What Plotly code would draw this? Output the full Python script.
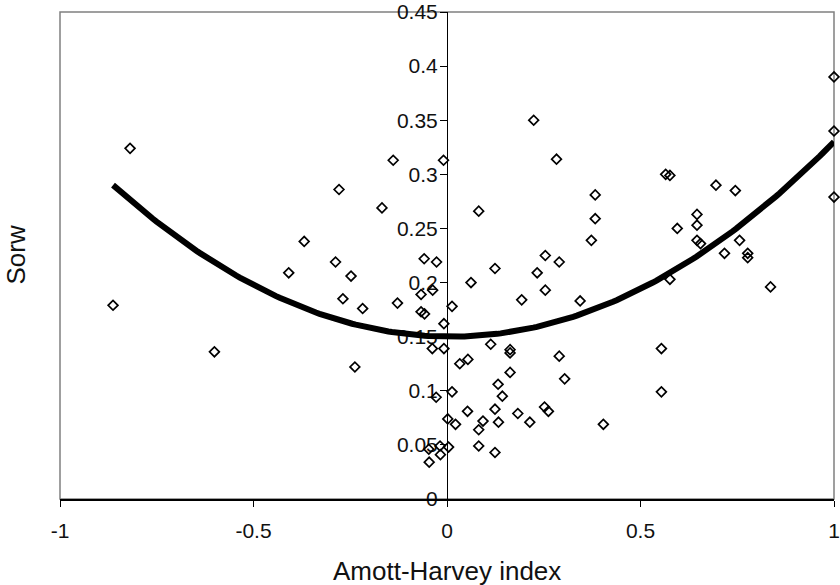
import numpy as np
import plotly.graph_objects as go

# Amott-Harvey index (x) and Sorw (y)
amott_harvey = [
    -0.863, -0.819, -0.601,
    -0.139, -0.009, -0.279, -0.168, -0.369, -0.288, -0.409, -0.248, -0.059, -0.027,
    -0.269, -0.218, -0.128, -0.067, -0.037, -0.067, -0.058, -0.008, -0.038, -0.008,
    -0.238, -0.028, -0.018, -0.017, -0.047, -0.046,
    0.082, 0.124, 0.254, 0.233, 0.290, 0.062, 0.254, 0.193, 0.013, 0.113, 0.163,
    0.163, 0.290, 0.033, 0.054, 0.163, 0.132, 0.143, 0.013, 0.053, 0.124, 0.183,
    0.252, 0.262, 0.002, 0.022, 0.093, 0.082, 0.133, 0.214, 0.082, 0.124, 0.004,
    0.304, 0.344, 0.404,
    0.224, 0.283, 0.383, 0.383, 0.373,
    0.576, 0.836, 0.717, 0.777, 0.777, 0.554, 0.554,
    0.565, 0.576, 0.695, 0.745, 0.646, 0.646, 0.595, 0.646, 0.655, 0.756,
    1.0, 1.0, 1.0,
]
sorw = [
    0.179, 0.324, 0.136,
    0.313, 0.313, 0.286, 0.269, 0.238, 0.219, 0.209, 0.206, 0.222, 0.219,
    0.185, 0.176, 0.181, 0.189, 0.193, 0.173, 0.171, 0.162, 0.139, 0.139,
    0.122, 0.094, 0.049, 0.041, 0.046, 0.034,
    0.266, 0.213, 0.225, 0.209, 0.219, 0.200, 0.193, 0.184, 0.178, 0.143, 0.138,
    0.135, 0.132, 0.125, 0.129, 0.117, 0.106, 0.095, 0.099, 0.081, 0.083, 0.079,
    0.085, 0.081, 0.074, 0.069, 0.072, 0.064, 0.071, 0.071, 0.049, 0.043, 0.048,
    0.111, 0.183, 0.069,
    0.350, 0.314, 0.281, 0.259, 0.239,
    0.203, 0.196, 0.227, 0.227, 0.223, 0.139, 0.099,
    0.300, 0.299, 0.290, 0.285, 0.263, 0.253, 0.250, 0.239, 0.236, 0.239,
    0.390, 0.340, 0.279,
]

# Order-2 polynomial trend line coefficients (a*x^2 + b*x + c)
trend_coeffs = [0.1837, -0.0037, 0.150]

x_tick_vals = [-1, -0.5, 0, 0.5, 1]
x_tick_labels = ["-1", "-0.5", "0", "0.5", "1"]
y_tick_vals = [0, 0.05, 0.1, 0.15, 0.2, 0.25, 0.3, 0.35, 0.4, 0.45]
y_tick_labels = ["0", "0.05", "0.1", "0.15", "0.2", "0.25", "0.3", "0.35", "0.4", "0.45"]

x_title = "Amott-Harvey index"
y_title = "Sorw"

xa = np.array(amott_harvey)
trend_x = np.linspace(xa.min(), xa.max(), 200)
trend_y = np.polyval(trend_coeffs, trend_x)

FONT = "Liberation Sans, Arial, sans-serif"

fig = go.Figure()
fig.add_trace(go.Scatter(
    x=amott_harvey, y=sorw, mode="markers",
    marker=dict(symbol="diamond-open", size=7.5, color="black", line=dict(width=1.7, color="black")),
    showlegend=False, hoverinfo="skip", cliponaxis=False,
))
fig.add_trace(go.Scatter(
    x=trend_x, y=trend_y, mode="lines",
    line=dict(color="black", width=6),
    showlegend=False, hoverinfo="skip", cliponaxis=False,
))

fig.update_layout(
    width=840, height=585,
    margin=dict(l=60, r=6, t=12, b=86, autoexpand=False),
    paper_bgcolor="white", plot_bgcolor="white",
    font=dict(family=FONT, size=21, color="#111111"),
    xaxis=dict(
        range=[-1, 1], tickvals=x_tick_vals, ticktext=x_tick_labels,
        showgrid=False, zeroline=False, showline=True, linecolor="black", linewidth=1.5,
        ticks="outside", ticklen=6, tickcolor="black", tickwidth=1, automargin=False,
        ticklabelstandoff=6,
        tickfont=dict(size=21, family=FONT), fixedrange=True,
    ),
    yaxis=dict(
        range=[0, 0.45], tickvals=y_tick_vals, ticktext=y_tick_labels,
        anchor="free", position=0.5, automargin=False,
        showgrid=False, zeroline=False, showline=True, linecolor="black", linewidth=1,
        ticks="outside", ticklen=7, tickcolor="black", tickwidth=1,
        ticklabelstandoff=-2,
        tickfont=dict(size=21, family=FONT), layer="below traces", fixedrange=True,
    ),
    shapes=[dict(type="rect", xref="paper", yref="paper", x0=0, x1=1, y0=0, y1=1,
                 line=dict(color="#808080", width=1.5), layer="below")],
    annotations=[
        dict(text=x_title, xref="paper", yref="paper", x=0.5, y=0, yshift=-72,
             showarrow=False, font=dict(size=26, family=FONT), xanchor="center", yanchor="middle"),
        dict(text=y_title, xref="paper", yref="paper", x=0, xshift=-45, y=0.5,
             showarrow=False, font=dict(size=26, family=FONT), textangle=-90,
             xanchor="center", yanchor="middle"),
    ],
)

# remove the page's default body margin so the 840x585 figure fills the window
fig.write_html(
    "out.html",
    config={"displayModeBar": False, "staticPlot": True},
    post_script="document.body.style.margin='0';document.body.style.overflow='hidden';",
)
